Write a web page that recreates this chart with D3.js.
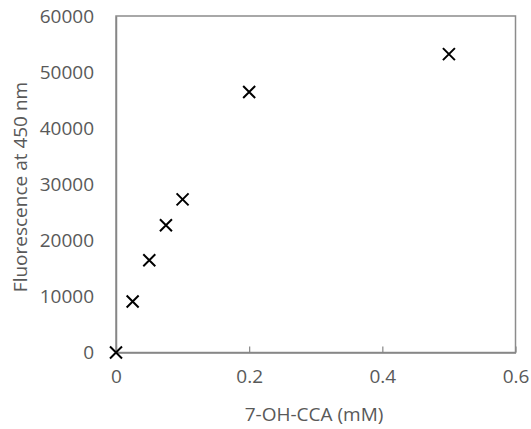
<!DOCTYPE html>
<html><head><meta charset="utf-8">
<script src="https://cdn.jsdelivr.net/npm/d3@7"></script>
<style>body{margin:0;background:#fff}svg{display:block}text{font-family:"Open Sans",sans-serif;fill:#595959}</style>
</head><body>
<script>
const concentrations = [0, 0.025, 0.05, 0.075, 0.1, 0.2, 0.5];
const fluorescence = [0, 9100, 16450, 22700, 27300, 46450, 53200];
const xTicks = [0, 0.2, 0.4, 0.6];
const yTicks = [0, 10000, 20000, 30000, 40000, 50000, 60000];
const xTitle = "7-OH-CCA (mM)";
const yTitle = "Fluorescence at 450 nm";

const W = 531, H = 429;
const m = {left: 116, right: 515.5, top: 16, bottom: 352.5};
const svg = d3.select("body").append("svg").attr("width", W).attr("height", H);
const x = d3.scaleLinear().domain([0, 0.6]).range([m.left, m.right]);
const y = d3.scaleLinear().domain([0, 60000]).range([m.bottom, m.top]);

// plot area border
svg.append("rect").attr("x", m.left).attr("y", m.top)
  .attr("width", m.right - m.left).attr("height", m.bottom - m.top)
  .attr("fill", "none").attr("stroke", "#8c8c8c").attr("stroke-width", 1.5);

// x axis with inner ticks
const xa = svg.append("g").attr("transform", `translate(0,${m.bottom})`)
  .call(d3.axisBottom(x).tickValues(xTicks).tickSizeInner(-6).tickSizeOuter(0).tickPadding(20).tickFormat(d3.format("")));
xa.select(".domain").attr("stroke", "#868686").attr("stroke-width", 1.5);
xa.selectAll(".tick line").attr("stroke", "#868686").attr("stroke-width", 1.2);
xa.selectAll(".tick text").attr("font-size", 19).attr("fill", "#595959").attr("dy", "0.55em")
  .style("font-family", '"Open Sans",sans-serif');

// y axis, no tick marks
const ya = svg.append("g").attr("transform", `translate(${m.left},0)`)
  .call(d3.axisLeft(y).tickValues(yTicks).tickSize(0).tickPadding(22).tickFormat(d3.format("")));
ya.select(".domain").attr("stroke", "#868686").attr("stroke-width", 1.5);
ya.selectAll(".tick text").attr("font-size", 19).attr("fill", "#595959")
  .style("font-family", '"Open Sans",sans-serif');

// markers
const s = 6;
const pts = svg.append("g").selectAll("g").data(concentrations.map((c, i) => [c, fluorescence[i]]))
  .join("g").attr("transform", d => `translate(${x(d[0])},${y(d[1])})`);
pts.append("path").attr("d", `M${-s},${-s}L${s},${s}M${-s},${s}L${s},${-s}`)
  .attr("stroke", "#000").attr("stroke-width", 2).attr("fill", "none");

// titles
svg.append("text").attr("x", 314).attr("y", 421).attr("text-anchor", "middle")
  .attr("font-size", 19).text(xTitle);
svg.append("text").attr("transform", "translate(27,187) rotate(-90)").attr("text-anchor", "middle")
  .attr("font-size", 19).text(yTitle);
</script>
</body></html>
